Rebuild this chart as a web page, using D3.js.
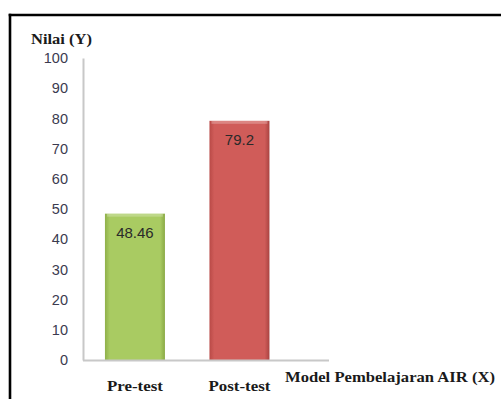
<!DOCTYPE html>
<html><head><meta charset="utf-8">
<script src="https://cdn.jsdelivr.net/npm/d3@7"></script>
<style>body{margin:0;background:#fff;}svg{display:block;}</style>
</head><body>
<svg id="c" width="501" height="399"></svg>
<script>
const categories = ["Pre-test", "Post-test"];
const values = [48.46, 79.2];
const valueLabels = ["48.46", "79.2"];
const yTicks = [0, 10, 20, 30, 40, 50, 60, 70, 80, 90, 100];
const barColors = [["#8fb04a", "#a9cb62", "#8aa945"], ["#b94a47", "#d05c59", "#a94341"]];

const svg = d3.select("#c");
svg.append("rect").attr("width", 501).attr("height", 399).attr("fill", "#fff");
// frame (top and left edges visible)
svg.append("line").attr("x1", 8.7).attr("x2", 501).attr("y1", 15).attr("y2", 15)
  .attr("stroke", "#000").attr("stroke-width", 2.6);
svg.append("line").attr("x1", 10).attr("x2", 10).attr("y1", 13.7).attr("y2", 399)
  .attr("stroke", "#000").attr("stroke-width", 2.6);

const y = d3.scaleLinear().domain([0, 100]).range([360, 58]);
const x = d3.scaleBand().domain(categories).range([83, 291.4]).paddingInner(0.426).paddingOuter(0.21);

const defs = svg.append("defs");
categories.forEach((c, i) => {
  const g = defs.append("linearGradient").attr("id", "g" + i).attr("x1", 0).attr("x2", 1).attr("y1", 0).attr("y2", 0);
  g.append("stop").attr("offset", "0").attr("stop-color", barColors[i][0]);
  g.append("stop").attr("offset", "0.08").attr("stop-color", barColors[i][1]);
  g.append("stop").attr("offset", "0.92").attr("stop-color", barColors[i][1]);
  g.append("stop").attr("offset", "1").attr("stop-color", barColors[i][2]);
});

// y axis
const yAxis = d3.axisLeft(y).tickValues(yTicks).tickSize(0).tickPadding(15);
const ya = svg.append("g").attr("transform", "translate(83,0)").call(yAxis);
ya.select(".domain").attr("stroke", "#c8c8c8").attr("stroke-width", 2);
ya.selectAll("text").attr("font-family", "Liberation Sans, Arial, sans-serif").attr("font-size", 14.5).attr("fill", "#3b3b4f");

// bars
svg.selectAll(".bar").data(categories).enter().append("rect")
  .attr("x", d => x(d)).attr("y", (d, i) => y(values[i]))
  .attr("width", x.bandwidth()).attr("height", (d, i) => y(0) - y(values[i]))
  .attr("fill", (d, i) => `url(#g${i})`);
svg.selectAll(".hl").data(categories).enter().append("rect")
  .attr("x", d => x(d) + 2).attr("y", (d, i) => y(values[i]))
  .attr("width", x.bandwidth() - 4).attr("height", 3)
  .attr("fill", "#fff").attr("opacity", 0.25);

// x axis line
svg.append("line").attr("x1", 83).attr("x2", 329).attr("y1", 360.5).attr("y2", 360.5)
  .attr("stroke", "#c8c8c8").attr("stroke-width", 2);

// value labels
svg.selectAll(".vl").data(categories).enter().append("text")
  .attr("x", d => x(d) + x.bandwidth() / 2).attr("y", (d, i) => y(values[i]) + 24)
  .attr("text-anchor", "middle").attr("font-family", "Liberation Sans, Arial, sans-serif")
  .attr("font-size", 15).attr("fill", "#2a2a2a").text((d, i) => valueLabels[i]);

// category labels
const catWidths = [56, 62];
svg.selectAll(".cl").data(categories).enter().append("text")
  .attr("x", d => x(d) + x.bandwidth() / 2).attr("y", 391)
  .attr("text-anchor", "middle").attr("font-family", "Liberation Serif, Times New Roman, serif")
  .attr("font-weight", "bold").attr("font-size", 15).attr("fill", "#1a1a1a")
  .attr("textLength", (d, i) => catWidths[i]).attr("lengthAdjust", "spacingAndGlyphs").text(d => d);

svg.append("text").attr("x", 285).attr("y", 382).attr("font-family", "Liberation Serif, Times New Roman, serif")
  .attr("font-weight", "bold").attr("font-size", 15.5).attr("fill", "#1a1a1a")
  .attr("textLength", 210).attr("lengthAdjust", "spacingAndGlyphs").text("Model Pembelajaran AIR (X)");
svg.append("text").attr("x", 31).attr("y", 43.5).attr("font-family", "Liberation Serif, Times New Roman, serif")
  .attr("font-weight", "bold").attr("font-size", 15.5).attr("fill", "#1a1a1a")
  .attr("textLength", 61).attr("lengthAdjust", "spacingAndGlyphs").text("Nilai (Y)");
</script>
</body></html>
